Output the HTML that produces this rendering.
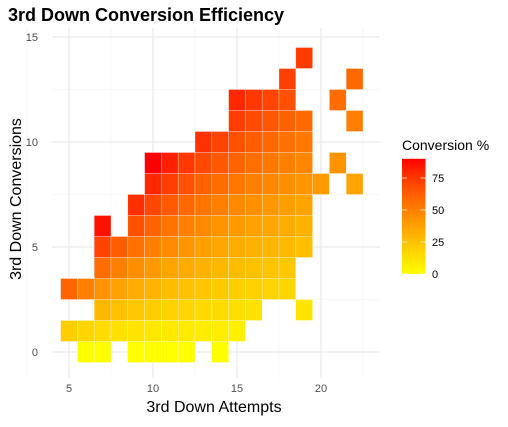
<!DOCTYPE html>
<html><head><meta charset="utf-8">
<style>
html,body{margin:0;padding:0;background:#fff;}
svg text{font-family:"Liberation Sans",Arial,sans-serif;}
</style></head>
<body>
<svg id="chart" width="508" height="422" viewBox="0 0 508 422">
<defs>
<linearGradient id="lg" x1="0" y1="1" x2="0" y2="0"></linearGradient>
</defs>
<g id="grid"></g>
<g id="tiles"></g>
<g id="axes"></g>
<text x="8" y="21" font-size="18" font-weight="bold" fill="#000">3rd Down Conversion Efficiency</text>
<text x="214" y="412" font-size="16" text-anchor="middle" fill="#000">3rd Down Attempts</text>
<text x="0" y="0" font-size="16" text-anchor="middle" fill="#000" transform="translate(21,199) rotate(-90)">3rd Down Conversions</text>
<g id="legend">
<text x="402" y="150" font-size="14" fill="#000">Conversion %</text>
</g>
</svg>
<script>
// tile rows: conversions value -> list of attempts
const rowConversions = [0,1,2,3,4,5,6,7,8,9,10,11,12,13,14];
const rowAttempts = [
  [6,7,9,10,11,12,14],
  [5,6,7,8,9,10,11,12,13,14,15],
  [7,8,9,10,11,12,13,14,15,16,19],
  [5,6,7,8,9,10,11,12,13,14,15,16,17,18],
  [7,8,9,10,11,12,13,14,15,16,17,18],
  [7,8,9,10,11,12,13,14,15,16,17,18,19],
  [7,9,10,11,12,13,14,15,16,17,18,19],
  [9,10,11,12,13,14,15,16,17,18,19],
  [10,11,12,13,14,15,16,17,18,19,20,22],
  [10,11,12,13,14,15,16,17,18,19,21],
  [13,14,15,16,17,18,19],
  [15,16,17,18,19,22],
  [15,16,17,18,21],
  [18,22],
  [19]
];
const xTicks = [5,10,15,20];
const yTicks = [0,5,10,15];
const legendTicks = [0,25,50,75];
const fillMax = 90;

const NS = "http://www.w3.org/2000/svg";
function xs(v){ return 69 + (v-5)*16.8; }
function ys(v){ return 352 - v*21; }
function ls(v){ return 274 - v/25*32; }
function color(p){
  const t = Math.max(0, Math.min(1, p/fillMax));
  const g = Math.round(255*Math.pow(1-t, 0.85));
  return "rgb(255,"+g+",0)";
}
function mk(tag, attrs, parent){
  const e = document.createElementNS(NS, tag);
  for (const k in attrs) e.setAttribute(k, attrs[k]);
  parent.appendChild(e);
  return e;
}
const grid = document.getElementById("grid");
const pLeft = 52, pRight = 380, pTop = 28, pBottom = 378;
for (let v = 2.5; v <= 22.5; v += 5) {
  const l = mk("line", {x1:xs(v), x2:xs(v), y1:pTop, y2:pBottom, stroke:"#f1f1f1", "stroke-width":0.6}, grid);
  
  
}
for (let v = 2.5; v <= 15; v += 5) {
  const l = mk("line", {x1:pLeft, x2:pRight, y1:ys(v), y2:ys(v), stroke:"#f1f1f1", "stroke-width":0.6}, grid);
  
  
}
xTicks.forEach(v => {
  const l = mk("line", {x1:xs(v), x2:xs(v), y1:pTop, y2:pBottom, stroke:"#e6e6e6", "stroke-width":1.1}, grid);
  
  
});
yTicks.forEach(v => {
  const l = mk("line", {x1:pLeft, x2:pRight, y1:ys(v), y2:ys(v), stroke:"#e6e6e6", "stroke-width":1.1}, grid);
  
  
});
const tiles = document.getElementById("tiles");
rowConversions.forEach((c, i) => {
  rowAttempts[i].forEach(a => {
    const r = mk("rect", {x:xs(a-0.5), y:ys(c+0.5), width:16.8, height:21, fill:color(c/a*100), stroke:"#ffffff", "stroke-width":0.5, "stroke-opacity":0.6}, tiles);
    
    
  });
});
const axes = document.getElementById("axes");
xTicks.forEach(v => {
  const t = mk("text", {x:xs(v), y:392, "font-size":11, "text-anchor":"middle", fill:"#4d4d4d"}, axes);
  t.textContent = v;
  
  
});
yTicks.forEach(v => {
  const t = mk("text", {x:38, y:ys(v)+4, "font-size":11, "text-anchor":"end", fill:"#4d4d4d"}, axes);
  t.textContent = v;
  
  
});
const lg = document.getElementById("lg");
for (let i = 0; i <= 10; i++) {
  mk("stop", {offset:(i/10), "stop-color":color(i/10*fillMax)}, lg);
}
const legend = document.getElementById("legend");
const bar = mk("rect", {x:402, y:ls(fillMax), width:23.5, height:274-ls(fillMax), fill:"url(#lg)"}, legend);


legendTicks.forEach(v => {
  const a = mk("line", {x1:402, x2:407, y1:ls(v), y2:ls(v), stroke:"#fff", "stroke-opacity":0.7}, legend);
  
  
  const b = mk("line", {x1:420.5, x2:425.5, y1:ls(v), y2:ls(v), stroke:"#fff", "stroke-opacity":0.7}, legend);
  
  
  const t = mk("text", {x:432, y:ls(v)+4, "font-size":11, fill:"#000"}, legend);
  t.textContent = v;
  
  
});
</script>
</body></html>
